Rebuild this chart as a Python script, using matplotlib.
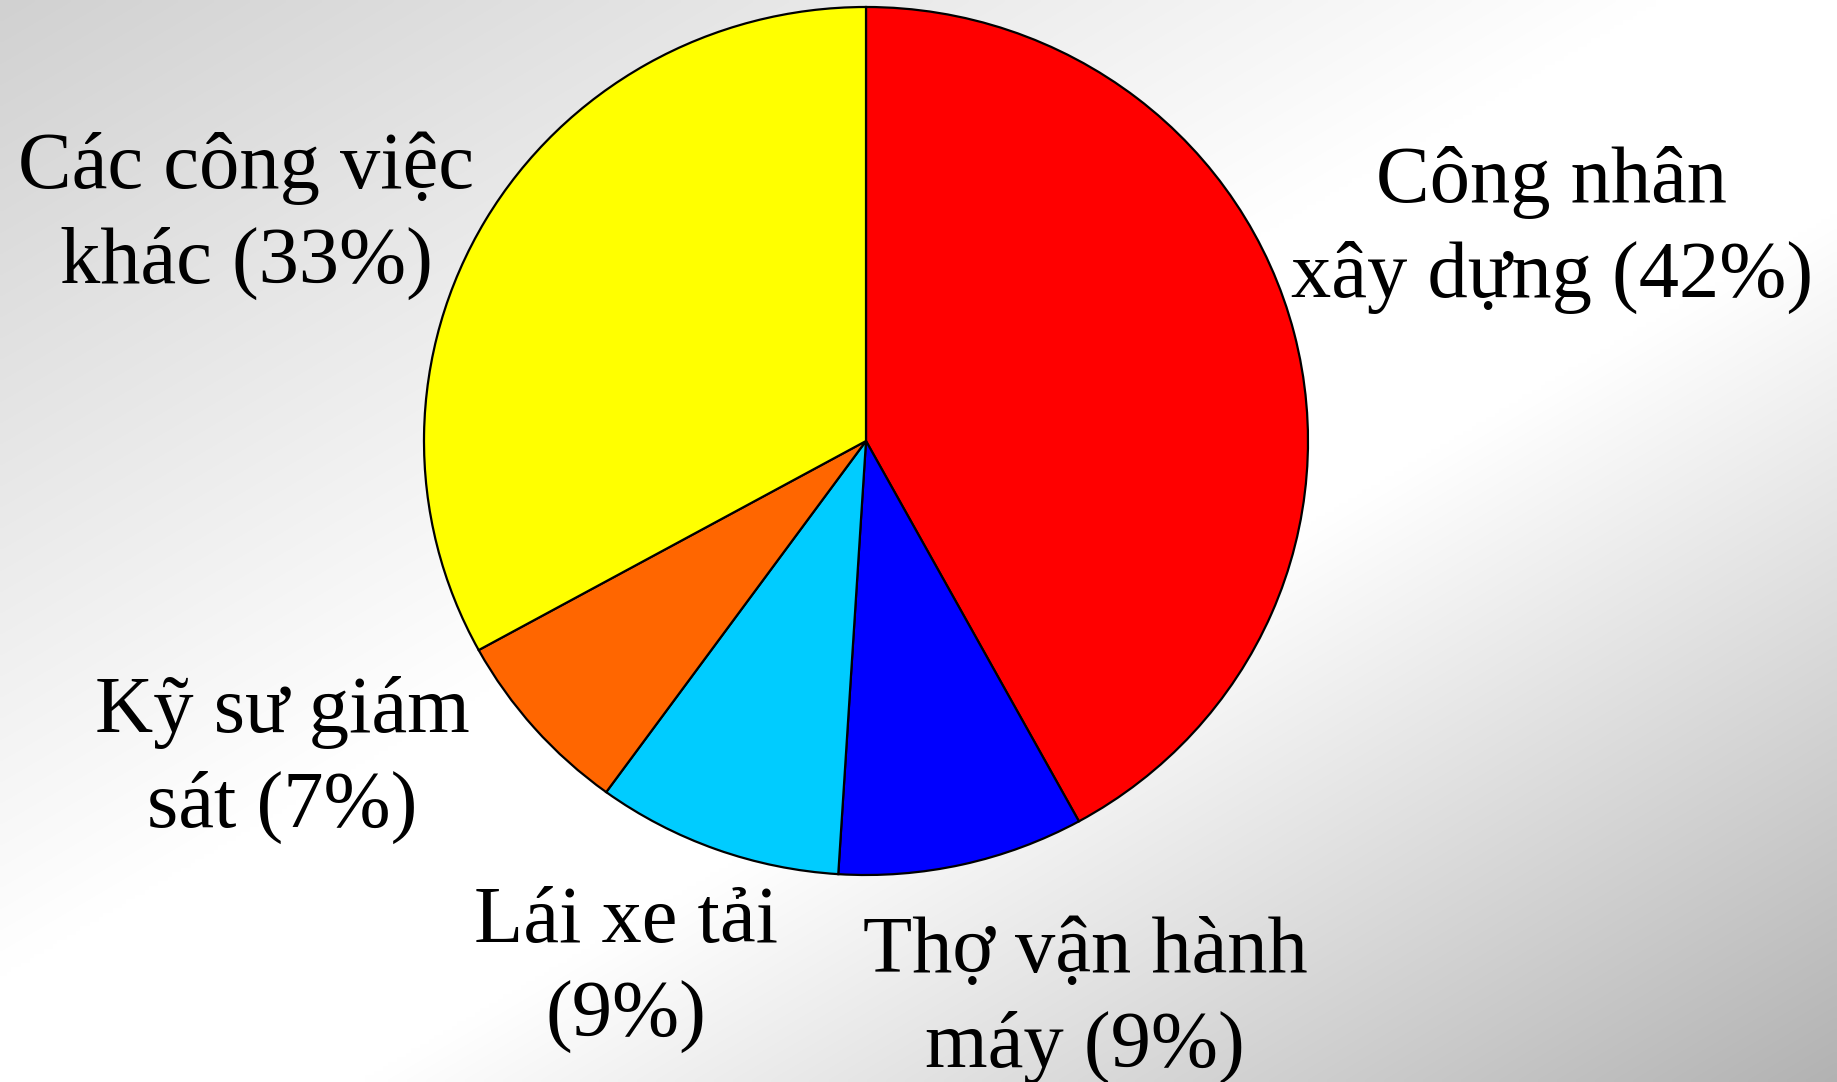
import matplotlib
matplotlib.use("Agg")
import matplotlib.pyplot as plt
import numpy as np

# Dữ liệu của biểu đồ
labels = ["Công nhân\nxây dựng (42%)", "Thợ vận hành\nmáy (9%)", "Lái xe tải\n(9%)",
          "Kỹ sư giám\nsát (7%)", "Các công việc\nkhác (33%)"]
values = [42, 9, 9, 7, 33]
colors = ["#FF0000", "#0000FF", "#00CCFF", "#FF6600", "#FFFF00"]

# Vị trí nhãn (pixel: tâm x, đường chân chữ dòng đầu)
label_pos = [(1552, 202), (1085, 972), (626, 942), (282, 732), (246, 188)]
line_step = 95

W, H = 1837, 1082
fig = plt.figure(figsize=(W / 100, H / 100), dpi=100)

# Nền gradient chéo: xám -> trắng -> xám đậm
bg = fig.add_axes([0, 0, 1, 1])
xx, yy = np.meshgrid(np.linspace(0, 1, 400), np.linspace(0, 1, 240))
u = xx + yy
g = np.where(u < 0.9, 0.82 + 0.18 * u / 0.9,
             np.where(u < 1.2, 1.0, 1.0 - 0.30 * (u - 1.2) / 0.8))
bg.imshow(np.dstack([g, g, g]), extent=[0, 1, 1, 0], aspect="auto", interpolation="bilinear")
bg.set_xlim(0, 1)
bg.set_ylim(1, 0)
bg.axis("off")

# Biểu đồ tròn (hơi dẹt như bản gốc)
cx, cy, rx, ry = 866, 441, 442, 434
ax = fig.add_axes([(cx - rx) / W, (H - cy - ry) / H, 2 * rx / W, 2 * ry / H])
wedges, _ = ax.pie(values, colors=colors, startangle=90, counterclock=False,
                   wedgeprops=dict(edgecolor="black", linewidth=1.6))
for w in wedges:
    w.set_clip_on(False)
ax.set_aspect("auto")
ax.set_xlim(-1, 1)
ax.set_ylim(-1, 1)

# Nhãn
for text, (px, py) in zip(labels, label_pos):
    for i, line in enumerate(text.split("\n")):
        fig.text(px / W, 1 - (py + i * line_step) / H, line, ha="center", va="baseline",
                 fontsize=58, family="Liberation Serif", color="black")

fig.savefig("out.png", dpi=100)
